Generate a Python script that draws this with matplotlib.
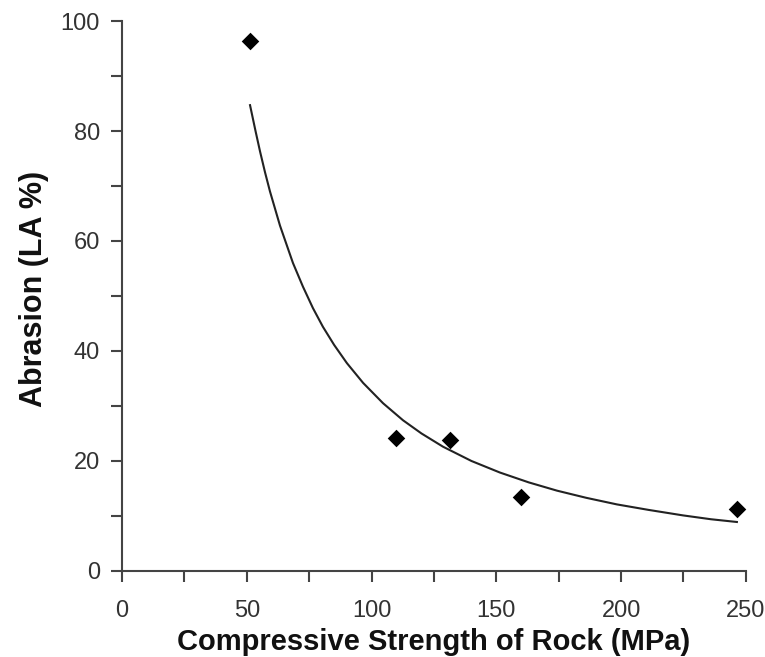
import matplotlib
matplotlib.use("Agg")
import matplotlib.pyplot as plt
from matplotlib.ticker import MultipleLocator

# Measured data points
strength = [51.3, 109.8, 131.4, 159.9, 246.4]
abrasion = [96.4, 24.2, 23.8, 13.5, 11.3]

# Trend curve
curve_x = [51.3, 53.5, 55.3, 57.3, 59.3, 63.3, 68.5, 72.5, 76.5, 80.5, 85.0, 90.1,
           96.6, 104.6, 112.6, 120.0, 128.6, 140.0, 151.4, 163.0, 174.3, 186.0,
           198.3, 211.0, 224.8, 236.0, 246.4]
curve_y = [84.7, 80.0, 76.3, 72.5, 69.0, 62.8, 56.0, 51.7, 47.8, 44.4, 41.1, 37.8,
           34.2, 30.5, 27.4, 25.0, 22.6, 20.0, 17.9, 16.1, 14.6, 13.3,
           12.1, 11.1, 10.1, 9.4, 8.9]

plt.rcParams['font.family'] = ['Liberation Sans', 'DejaVu Sans']

fig = plt.figure(figsize=(7.65, 6.57), dpi=100)
ax = fig.add_axes([0.1595, 0.131, 0.8155, 0.837])

ax.plot(curve_x, curve_y, color='#222222', lw=1.5)
ax.scatter(strength, abrasion, marker='D', s=80, color='black', zorder=3, linewidths=0)

ax.set_xlim(0, 250)
ax.set_ylim(0, 100)
ax.spines['top'].set_visible(False)
ax.spines['right'].set_visible(False)
for s in ('left', 'bottom'):
    ax.spines[s].set_linewidth(1.5)
    ax.spines[s].set_color('#444444')

ax.xaxis.set_major_locator(MultipleLocator(50))
ax.xaxis.set_minor_locator(MultipleLocator(25))
ax.yaxis.set_major_locator(MultipleLocator(20))
ax.yaxis.set_minor_locator(MultipleLocator(10))
ax.tick_params(which='both', direction='out', length=8, width=1.5, color='#444444',
               labelsize=17, labelcolor='#333333')
ax.tick_params(axis='y', pad=8)
ax.tick_params(axis='x', pad=13)

ax.set_xlabel('Compressive Strength of Rock (MPa)', fontsize=21, fontweight='bold',
              labelpad=4, color='#111111')
ax.set_ylabel('Abrasion (LA %)', fontsize=22, fontweight='bold', color='#111111')
ax.yaxis.set_label_coords(-0.117, 0.513)

fig.savefig('out.png', dpi=100)
